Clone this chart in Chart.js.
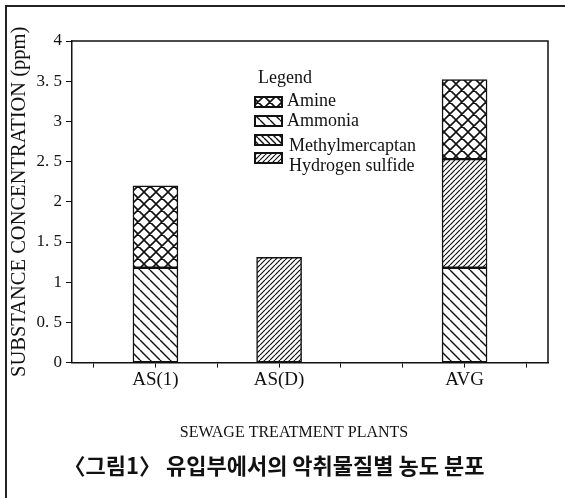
<!DOCTYPE html>
<html>
<head>
<meta charset="utf-8">
<script src="https://cdn.jsdelivr.net/npm/chart.js@4.4.0/dist/chart.umd.min.js"></script>
<style>
  html, body { margin: 0; padding: 0; background: #fff; }
  #wrap { position: relative; width: 565px; height: 498px; overflow: hidden; }
  #frame { position: absolute; left: 5px; top: 5px; width: 600px; height: 600px;
           border-left: 2px solid #222; border-top: 2px solid #222; }
  canvas { position: absolute; left: 0; top: 0; }
</style>
</head>
<body>
<div id="wrap">
  <div id="frame"></div>
  <canvas id="myChart" width="565" height="498"></canvas>
</div>
<script>
// plants on the x axis and the slot each one sits in
const plants = ["AS(1)", "AS(D)", "AVG"];
const plantSlots = [1, 3, 6];

// concentration (ppm) per substance, one value per plant
const ammonia = [1.18, null, 1.18];
const hydrogenSulfide = [null, 1.31, 1.35];
const methylmercaptan = [null, null, null];
const amine = [1.02, null, 0.99];

const yTickLabels = ["0", "0. 5", "1", "1. 5", "2", "2. 5", "3", "3. 5", "4"];
const legendOrder = ["Amine", "Ammonia", "Methylmercaptan", "Hydrogen sulfide"];

const SERIF = "'Liberation Serif', 'DejaVu Serif', serif";
const INK = "#111";

// hatch fills like the printed figure
function makePattern(kind) {
  const sizes = { cross: 12, wide: 10, dense: 6, fine: 5 };
  const s = sizes[kind];
  const c = document.createElement("canvas");
  c.width = s;
  c.height = s;
  const g = c.getContext("2d");
  g.fillStyle = "#fff";
  g.fillRect(0, 0, s, s);
  g.strokeStyle = INK;
  g.lineWidth = kind === "cross" ? 1.6 : kind === "fine" ? 1.2 : 1.4;
  g.beginPath();
  for (let k = -1; k <= 1; k++) {
    if (kind !== "fine") {
      g.moveTo(k * s, 0);
      g.lineTo(k * s + s, s);
    }
    if (kind === "cross" || kind === "fine") {
      g.moveTo(k * s, s);
      g.lineTo(k * s + s, 0);
    }
  }
  g.stroke();
  return g.createPattern(c, "repeat");
}

function toPoints(values) {
  return values.map((v, i) => ({ x: plantSlots[i], y: v }));
}

function makeDataset(label, values, fill) {
  return {
    label: label,
    data: toPoints(values),
    backgroundColor: fill,
    borderColor: INK,
    borderWidth: 1.5,
    borderSkipped: false,
    barThickness: 45,
  };
}

// boxes the plot area on top and right
const frameLines = {
  id: "frameLines",
  afterDatasetsDraw(chart) {
    const { ctx, chartArea: a } = chart;
    ctx.save();
    ctx.strokeStyle = INK;
    ctx.lineWidth = 1.5;
    ctx.beginPath();
    ctx.moveTo(a.left, a.top);
    ctx.lineTo(a.right, a.top);
    ctx.lineTo(a.right, a.bottom);
    ctx.stroke();
    ctx.restore();
  },
};

// the little "Legend" block inside the plot
const boxLegend = {
  id: "boxLegend",
  afterDraw(chart) {
    const ctx = chart.ctx;
    const boxY = [97, 116, 135, 153];
    const textY = [101, 121, 146, 166];
    ctx.save();
    ctx.fillStyle = INK;
    ctx.font = "18px " + SERIF;
    ctx.textBaseline = "middle";
    ctx.fillText("Legend", 258, 78);
    legendOrder.forEach((name, i) => {
      const ds = chart.data.datasets.find((d) => d.label === name);
      ctx.fillStyle = ds.backgroundColor;
      ctx.fillRect(255, boxY[i], 27, 10);
      ctx.strokeStyle = INK;
      ctx.lineWidth = 2;
      ctx.strokeRect(255, boxY[i], 27, 10);
      ctx.fillStyle = INK;
      ctx.fillText(name, i < 2 ? 287 : 289, textY[i]);
    });
    ctx.restore();
  },
};

const ctx = document.getElementById("myChart").getContext("2d");

new Chart(ctx, {
  type: "bar",
  data: {
    datasets: [
      makeDataset("Ammonia", ammonia, makePattern("wide")),
      makeDataset("Hydrogen sulfide", hydrogenSulfide, makePattern("fine")),
      makeDataset("Methylmercaptan", methylmercaptan, makePattern("dense")),
      makeDataset("Amine", amine, makePattern("cross")),
    ],
  },
  options: {
    responsive: false,
    animation: false,
    layout: { padding: { left: 0, right: 17, top: 41, bottom: 0 } },
    scales: {
      x: {
        type: "linear",
        stacked: true,
        offset: false,
        min: -0.35,
        max: 7.35,
        afterFit: (scale) => { scale.height = 90; },
        border: { color: INK, width: 1.5 },
        grid: { drawOnChartArea: false, offset: false, color: INK, tickLength: 5 },
        ticks: {
          stepSize: 1,
          includeBounds: false,
          autoSkip: false,
          maxRotation: 0,
          padding: 1,
          color: INK,
          font: { family: SERIF, size: 19 },
          callback: (v) => {
            const i = plantSlots.indexOf(v);
            return i >= 0 ? plants[i] : "";
          },
        },
        title: {
          display: true,
          // trailing spaces nudge the centred title left, as printed
          text: "SEWAGE TREATMENT PLANTS        ",
          color: INK,
          font: { family: SERIF, size: 16 },
          padding: { top: 0, bottom: 10 },
        },
      },
      y: {
        stacked: true,
        min: 0,
        max: 4,
        afterFit: (scale) => { scale.width = 72; },
        border: { color: INK, width: 1.5 },
        grid: { drawOnChartArea: false, color: INK, tickLength: 6 },
        ticks: {
          stepSize: 0.5,
          padding: 4,
          color: INK,
          font: { family: SERIF, size: 17 },
          callback: (v) => yTickLabels[Math.round(v * 2)],
        },
        title: {
          display: true,
          text: "SUBSTANCE CONCENTRATION (ppm)",
          color: INK,
          font: { family: SERIF, size: 20.5 },
          padding: { top: 7, bottom: 0 },
        },
      },
    },
    plugins: {
      legend: { display: false },
      tooltip: { enabled: false },
      title: {
        display: true,
        position: "bottom",
        text: "〈그림1〉 유입부에서의 악취물질별 농도 분포",
        color: INK,
        font: { family: "'Noto Sans CJK KR', sans-serif", size: 22, weight: "bold" },
        padding: { top: 0, bottom: 19 },
      },
    },
  },
  plugins: [frameLines, boxLegend],
});
</script>
</body>
</html>
